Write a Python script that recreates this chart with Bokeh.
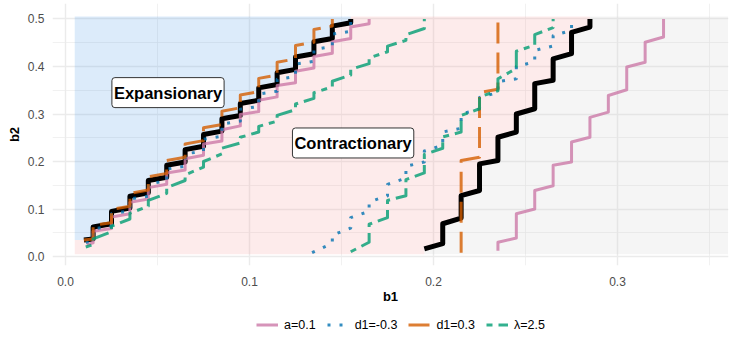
from bokeh.plotting import figure
from bokeh.layouts import column
from bokeh.models import Range1d, FixedTicker, NumeralTickFormatter, Legend, LegendItem, Label
from bokeh.embed import file_html
from bokeh.resources import INLINE

FONT = "Liberation Sans"

# ---------------- data ----------------
# extent of the shaded regime map
region_x = [0.005, 0.36]
region_y = [0.005, 0.505]
expansion_floor = 0.035

# baseline boundaries (black)
base_left_start = [0.010, 0.035]
base_left_x = [0.015, 0.025, 0.035, 0.045, 0.055, 0.065, 0.075, 0.085, 0.095, 0.105, 0.115, 0.125, 0.135, 0.145, 0.155]
base_left_lo = [0.037, 0.069, 0.102, 0.134, 0.167, 0.199, 0.232, 0.264, 0.297, 0.329, 0.362, 0.394, 0.427, 0.459, 0.492]
base_left_hi = [0.062, 0.095, 0.127, 0.160, 0.192, 0.225, 0.257, 0.290, 0.322, 0.355, 0.387, 0.420, 0.452, 0.485, 0.500]

base_right_start = [0.195, 0.016]
base_right_x = [0.205, 0.215, 0.225, 0.235, 0.245, 0.255, 0.265, 0.275, 0.285]
base_right_lo = [0.027, 0.081, 0.139, 0.202, 0.262, 0.311, 0.371, 0.427, 0.483]
base_right_hi = [0.069, 0.128, 0.195, 0.251, 0.300, 0.364, 0.416, 0.472, 0.500]

# a=0.1
a_left_start = [0.0115, 0.025]
a_left_x = [0.015, 0.025, 0.035, 0.045, 0.055, 0.065, 0.075, 0.085, 0.095, 0.105, 0.115, 0.125, 0.135, 0.145, 0.155, 0.165]
a_left_lo = [0.029, 0.059, 0.090, 0.121, 0.152, 0.182, 0.213, 0.243, 0.275, 0.305, 0.336, 0.366, 0.397, 0.428, 0.459, 0.490]
a_left_hi = [0.053, 0.083, 0.114, 0.145, 0.176, 0.206, 0.237, 0.267, 0.299, 0.329, 0.360, 0.390, 0.421, 0.452, 0.483, 0.500]
a_right_x = [0.235, 0.245, 0.255, 0.265, 0.275, 0.285, 0.295, 0.305, 0.315, 0.325]
a_right_lo = [0.012, 0.039, 0.100, 0.149, 0.199, 0.251, 0.304, 0.351, 0.409, 0.462]
a_right_hi = [0.030, 0.090, 0.139, 0.192, 0.241, 0.293, 0.339, 0.399, 0.451, 0.500]

# d1=-0.3
dneg_left_start = [0.011, 0.030]
dneg_left_x = [0.015, 0.025, 0.035, 0.045, 0.055, 0.065, 0.075, 0.085, 0.095, 0.105, 0.115, 0.125, 0.135, 0.145, 0.155]
dneg_left_lo = [0.033, 0.064, 0.096, 0.127, 0.159, 0.190, 0.222, 0.253, 0.285, 0.316, 0.348, 0.379, 0.411, 0.442, 0.474]
dneg_left_hi = [0.058, 0.090, 0.121, 0.153, 0.184, 0.216, 0.247, 0.279, 0.310, 0.342, 0.373, 0.405, 0.436, 0.468, 0.500]
dneg_right_start = [0.134, 0.008]
dneg_right_x = [0.145, 0.155, 0.165, 0.175, 0.185, 0.195, 0.205, 0.215, 0.225, 0.235, 0.245, 0.255, 0.265, 0.275]
dneg_right_lo = [0.028, 0.060, 0.095, 0.128, 0.165, 0.199, 0.234, 0.270, 0.310, 0.345, 0.374, 0.410, 0.443, 0.476]
dneg_right_hi = [0.045, 0.082, 0.115, 0.152, 0.190, 0.222, 0.262, 0.300, 0.335, 0.368, 0.400, 0.434, 0.465, 0.500]

# d1=0.3
dpos_left_start = [0.010, 0.035]
dpos_left_x = [0.015, 0.025, 0.035, 0.045, 0.055, 0.065, 0.075, 0.085, 0.095, 0.105, 0.115, 0.125, 0.135, 0.145]
dpos_left_lo = [0.037, 0.071, 0.106, 0.140, 0.175, 0.209, 0.244, 0.278, 0.313, 0.347, 0.382, 0.416, 0.451, 0.485]
dpos_left_hi = [0.066, 0.099, 0.133, 0.168, 0.202, 0.237, 0.271, 0.306, 0.340, 0.375, 0.409, 0.444, 0.478, 0.500]
dpos_right_x = [0.215, 0.225, 0.235]
dpos_right_lo = [0.008, 0.209, 0.352]
dpos_right_hi = [0.202, 0.345, 0.500]

# lambda=2.5
lam_left_start = [0.011, 0.020]
lam_left_x = [0.015, 0.025, 0.035, 0.045, 0.055, 0.065, 0.075, 0.085, 0.095, 0.105, 0.115, 0.125, 0.135, 0.145, 0.155, 0.165, 0.175, 0.185, 0.195]
lam_left_lo = [0.025, 0.052, 0.079, 0.106, 0.133, 0.160, 0.188, 0.216, 0.239, 0.262, 0.285, 0.309, 0.333, 0.357, 0.382, 0.406, 0.431, 0.455, 0.480]
lam_left_hi = [0.037, 0.064, 0.091, 0.118, 0.145, 0.172, 0.200, 0.228, 0.251, 0.274, 0.297, 0.321, 0.345, 0.369, 0.394, 0.418, 0.443, 0.467, 0.500]
lam_right_start = [0.155, 0.010]
lam_right_x = [0.165, 0.175, 0.185, 0.195, 0.205, 0.215, 0.225, 0.235, 0.245, 0.255, 0.265]
lam_right_lo = [0.030, 0.082, 0.128, 0.176, 0.228, 0.262, 0.311, 0.349, 0.396, 0.445, 0.482]
lam_right_hi = [0.068, 0.118, 0.162, 0.215, 0.252, 0.297, 0.336, 0.374, 0.432, 0.467, 0.500]

series_labels = ["a=0.1", "d1=-0.3", "d1=0.3", "\u03bb=2.5"]
x_ticks = [0.0, 0.1, 0.2, 0.3]
x_minor = [0.05, 0.15, 0.25, 0.35]
y_ticks = [0.0, 0.1, 0.2, 0.3, 0.4, 0.5]
y_minor = [0.05, 0.15, 0.25, 0.35, 0.45]

regime_labels = ["Expansionary", "Contractionary"]
regime_label_x = [0.0557, 0.1563]
regime_label_y = [0.345, 0.239]


def stairs(start, xs, lo, hi):
    px, py = [], []
    if start is not None:
        px.append(start[0]); py.append(start[1])
    for x, l, h in zip(xs, lo, hi):
        px += [x, x]
        py += [l, h]
    return px, py


bl_x, bl_y = stairs(base_left_start, base_left_x, base_left_lo, base_left_hi)
br_x, br_y = stairs(base_right_start, base_right_x, base_right_lo, base_right_hi)

p = figure(width=733, height=312, output_backend="svg", toolbar_location=None,
           x_range=Range1d(-0.00707, 0.3603), y_range=Range1d(-0.0189, 0.5326))
p.min_border = 0
p.min_border_left = 52
p.min_border_right = 5
p.min_border_top = 3
p.min_border_bottom = 47
p.outline_line_color = None
p.background_fill_color = "white"
p.border_fill_color = "white"

# grids
for g, t, m in ((p.xgrid, x_ticks, x_minor), (p.ygrid, y_ticks, y_minor)):
    g.ticker = FixedTicker(ticks=t, minor_ticks=m)
    g.grid_line_color = "#EBEBEB"
    g.grid_line_width = 1.4
    g.minor_grid_line_color = "#EBEBEB"
    g.minor_grid_line_width = 0.7

# regions
x0, x1 = region_x
y0, y1 = region_y
blue_x = [x0, x0] + bl_x + [bl_x[-1]]
blue_y = [y1, expansion_floor] + bl_y + [y1]
p.patch(blue_x, blue_y, fill_color="#509BE6", fill_alpha=0.2, line_color=None)
pink_x = [x0, x0] + bl_x + [bl_x[-1], br_x[-1]] + br_x[::-1] + [br_x[0]]
pink_y = [y0, expansion_floor] + bl_y + [y1, y1] + br_y[::-1] + [y0]
p.patch(pink_x, pink_y, fill_color="#F59B9B", fill_alpha=0.2, line_color=None)
grey_x = br_x + [br_x[-1], x1, x1, br_x[0]]
grey_y = br_y + [y1, y1, y0, y0]
p.patch(grey_x, grey_y, fill_color="#CDCDCD", fill_alpha=0.2, line_color=None)

# baseline
for xs, ys in ((bl_x, bl_y), (br_x, br_y)):
    p.line(xs, ys, line_color="black", line_width=5, line_join="round")

styles = [
    ("#CC79A7", None, (a_left_start, a_left_x, a_left_lo, a_left_hi), (None, a_right_x, a_right_lo, a_right_hi)),
    ("#0072B2", "3 9", (dneg_left_start, dneg_left_x, dneg_left_lo, dneg_left_hi), (dneg_right_start, dneg_right_x, dneg_right_lo, dneg_right_hi)),
    ("#D55E00", "21 9", (dpos_left_start, dpos_left_x, dpos_left_lo, dpos_left_hi), (None, dpos_right_x, dpos_right_lo, dpos_right_hi)),
    ("#009E73", "6 6 18 6", (lam_left_start, lam_left_x, lam_left_lo, lam_left_hi), (lam_right_start, lam_right_x, lam_right_lo, lam_right_hi)),
]
for color, dash, left, right in styles:
    for part in (left, right):
        xs, ys = stairs(*part)
        kw = dict(line_color=color, line_alpha=0.8, line_width=3, line_join="round")
        if dash:
            kw["line_dash"] = dash
        p.line(xs, ys, **kw)

# regime labels
for txt, lx, ly in zip(regime_labels, regime_label_x, regime_label_y):
    p.add_layout(Label(x=lx, y=ly, text=txt, text_align="center", text_baseline="middle",
                       text_font=FONT, text_font_size="16.5px", text_font_style="bold",
                       text_color="black", background_fill_color="white",
                       border_line_color="#333333", border_line_width=1,
                       padding=(2, 6), border_radius=3))

# axes
p.xaxis.ticker = FixedTicker(ticks=x_ticks)
p.yaxis.ticker = FixedTicker(ticks=y_ticks)
for ax in (p.xaxis[0], p.yaxis[0]):
    ax.formatter = NumeralTickFormatter(format="0.0")
    ax.axis_line_color = None
    ax.major_tick_out = 0
    ax.major_tick_in = 0
    ax.minor_tick_out = 0
    ax.minor_tick_in = 0
    ax.major_label_text_font = FONT
    ax.major_label_text_font_size = "12px"
    ax.major_label_text_color = "#4D4D4D"
    ax.axis_label_text_font = FONT
    ax.axis_label_text_font_size = "13px"
    ax.axis_label_text_font_style = "bold"
    ax.axis_label_text_color = "black"
p.xaxis.axis_label = "b1"
p.yaxis.axis_label = "b2"
p.xaxis.major_label_standoff = 11
p.xaxis.axis_label_standoff = 0
p.yaxis.major_label_standoff = 8
p.yaxis.axis_label_standoff = 3

# legend strip under the plot (key renderers hold a point outside the visible range)
leg = figure(width=733, height=34, output_backend="svg", toolbar_location=None,
             x_range=Range1d(0, 1), y_range=Range1d(0, 1),
             x_axis_type=None, y_axis_type=None)
leg.min_border = 0
leg.outline_line_color = None
leg.grid.visible = False
items = []
for label, (color, dash, _l, _r) in zip(series_labels, styles):
    kw = dict(line_color=color, line_alpha=0.8, line_width=3)
    if dash:
        kw["line_dash"] = dash
    r = leg.line([-2, -1], [-2, -2], **kw)
    items.append(LegendItem(label=label, renderers=[r]))
legend = Legend(items=items, orientation="horizontal", location=(204, 13),
                glyph_width=22, glyph_height=17, label_height=17, label_width=10,
                label_standoff=6, spacing=11, padding=0, margin=0,
                border_line_color=None, background_fill_alpha=0,
                label_text_font=FONT, label_text_font_size="12.5px", label_text_color="black")
leg.add_layout(legend)

layout = column(p, leg, spacing=0)
open("out.html", "w").write(file_html(layout, INLINE))
